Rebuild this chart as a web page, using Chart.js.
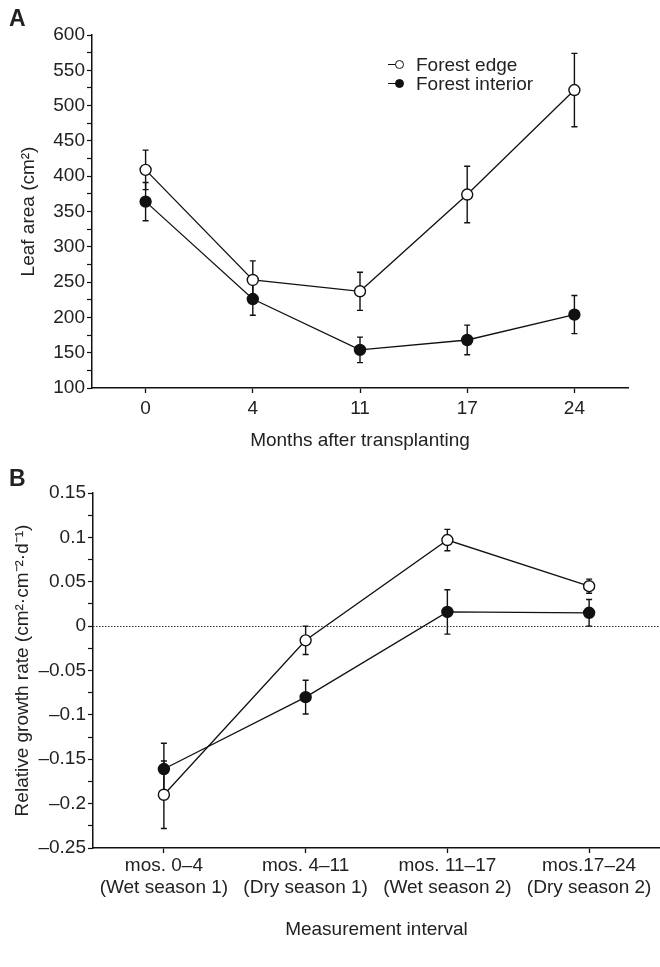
<!DOCTYPE html>
<html>
<head>
<meta charset="utf-8">
<script src="https://cdn.jsdelivr.net/npm/chart.js@4.4.1/dist/chart.umd.min.js"></script>
<style>
  html, body { margin: 0; padding: 0; background: #fff; }
  body { width: 660px; height: 967px; position: relative; overflow: hidden; font-family: 'Liberation Sans', Arial, sans-serif; color: #222; }
  .panel { position: absolute; left: 0; width: 660px; }
  #panelA { top: 0; height: 460px; }
  #panelB { top: 460px; height: 507px; }
  .tag { position: absolute; left: 9px; font-weight: bold; font-size: 23px; line-height: 1; }
  .legend { position: absolute; left: 388px; top: 55px; font-size: 19px; line-height: 19px; }
  .legend .row { position: relative; height: 19px; padding-left: 28px; white-space: nowrap; }
  .legend .ln { position: absolute; left: 0; top: 9px; width: 14px; height: 1.3px; background: #111; }
  .legend .dot { position: absolute; left: 7px; top: 5px; width: 7px; height: 7px; border: 1.3px solid #111; border-radius: 50%; background: #fff; }
  .legend .dot.fill { background: #111; }
</style>
</head>
<body>
<div class="panel" id="panelA"><canvas id="chartA" width="660" height="460"></canvas></div>
<div class="panel" id="panelB"><canvas id="chartB" width="660" height="507"></canvas></div>
<div class="tag" style="top:7px">A</div>
<div class="tag" style="top:467px">B</div>
<div class="legend">
  <div class="row"><span class="ln"></span><span class="dot"></span>Forest edge</div>
  <div class="row"><span class="ln"></span><span class="dot fill"></span>Forest interior</div>
</div>
<script>
const FONT = "'Liberation Sans', Arial, sans-serif";
const INK = '#222';

// panel A: leaf area
const monthLabels = ['0', '4', '11', '17', '24'];
const edgeArea = [409, 253, 237, 374, 522];
const edgeAreaErr = [28, 27, 27, 40, 52];
const interiorArea = [364, 226, 154, 168, 204];
const interiorAreaErr = [27, 23, 18, 21, 27];

// panel B: relative growth rate
const intervalLabels = [
  ['mos. 0–4', '(Wet season 1)'],
  ['mos. 4–11', '(Dry season 1)'],
  ['mos. 11–17', '(Wet season 2)'],
  ['mos.17–24', '(Dry season 2)'],
];
const edgeRate = [-0.190, -0.016, 0.097, 0.045];
const edgeRateErr = [0.038, 0.016, 0.012, 0.008];
const interiorRate = [-0.161, -0.080, 0.016, 0.015];
const interiorRateErr = [0.029, 0.019, 0.025, 0.015];

Chart.defaults.font.family = FONT;
Chart.defaults.color = INK;

const errorBars = {
  id: 'errorBars',
  beforeDatasetsDraw(chart) {
    const { ctx, scales: { y } } = chart;
    ctx.save();
    ctx.strokeStyle = '#111';
    ctx.lineWidth = 1.4;
    chart.data.datasets.forEach((ds, i) => {
      const meta = chart.getDatasetMeta(i);
      (ds.errors || []).forEach((e, j) => {
        const px = meta.data[j].x;
        const top = y.getPixelForValue(ds.data[j] + e);
        const bot = y.getPixelForValue(ds.data[j] - e);
        ctx.beginPath();
        ctx.moveTo(px, top); ctx.lineTo(px, bot);
        ctx.moveTo(px - 3, top); ctx.lineTo(px + 3, top);
        ctx.moveTo(px - 3, bot); ctx.lineTo(px + 3, bot);
        ctx.stroke();
      });
    });
    ctx.restore();
  }
};

const zeroLine = {
  id: 'zeroLine',
  beforeDatasetsDraw(chart) {
    const { ctx, chartArea, scales: { y } } = chart;
    const py = Math.round(y.getPixelForValue(0)) + 0.5;
    ctx.save();
    ctx.strokeStyle = '#333';
    ctx.lineWidth = 1;
    ctx.setLineDash([1.5, 1.5]);
    ctx.beginPath();
    ctx.moveTo(chartArea.left, py);
    ctx.lineTo(chartArea.right, py);
    ctx.stroke();
    ctx.restore();
  }
};

function series(data, errors, filled) {
  return {
    data,
    errors,
    borderColor: '#111',
    borderWidth: 1.3,
    pointRadius: 5.5,
    pointHoverRadius: 5.5,
    pointBorderWidth: 1.4,
    pointBorderColor: '#111',
    pointBackgroundColor: filled ? '#111' : '#fff',
    tension: 0,
    clip: false,
  };
}

function axisOpts(cfg) {
  return {
    x: {
      type: 'category',
      offset: true,
      grid: { display: true, drawOnChartArea: false, tickLength: 5, tickColor: '#111', tickWidth: 1.3, offset: false },
      border: { color: '#111', width: 1.5 },
      ticks: { font: { size: 19 }, color: INK, padding: cfg.xPad, maxRotation: 0, autoSkip: false },
      title: { display: true, text: cfg.xTitle, font: { size: 19 }, color: INK, padding: { top: 0, bottom: cfg.xTitlePad } },
      afterFit: s => { s.height = cfg.xHeight; s.paddingLeft = 0; s.paddingRight = 0; },
    },
    y: {
      min: cfg.min, max: cfg.max,
      grid: { display: true, drawOnChartArea: false, tickLength: 5, tickColor: '#111', tickWidth: 1.2 },
      border: { color: '#111', width: 1.5 },
      ticks: { stepSize: cfg.step, autoSkip: false, font: { size: 19 }, color: INK, padding: 2, callback: cfg.fmt },
      title: { display: true, text: cfg.yTitle, font: { size: 19 }, color: INK, padding: { top: cfg.yTitlePad, bottom: 0 } },
      afterFit: s => { s.width = cfg.yWidth; },
    },
  };
}

new Chart(document.getElementById('chartA'), {
  type: 'line',
  data: {
    labels: monthLabels,
    datasets: [
      series(edgeArea, edgeAreaErr, false),
      series(interiorArea, interiorAreaErr, true),
    ],
  },
  options: {
    responsive: false,
    animation: false,
    layout: { autoPadding: false, padding: { top: 35, right: 32, bottom: 0, left: 0 } },
    plugins: { legend: { display: false }, tooltip: { enabled: false } },
    scales: axisOpts({
      min: 100, max: 600, step: 25,
      fmt: v => (v % 50 === 0 ? String(v) : ''),
      xTitle: 'Months after transplanting', xTitlePad: 8, xHeight: 72, xPad: 4,
      yTitle: 'Leaf area (cm²)', yTitlePad: 17, yWidth: 92,
    }),
  },
  plugins: [errorBars],
});

new Chart(document.getElementById('chartB'), {
  type: 'line',
  data: {
    labels: intervalLabels,
    datasets: [
      series(edgeRate, edgeRateErr, false),
      series(interiorRate, interiorRateErr, true),
    ],
  },
  options: {
    responsive: false,
    animation: false,
    layout: { autoPadding: false, padding: { top: 33, right: 0, bottom: 0, left: 0 } },
    plugins: { legend: { display: false }, tooltip: { enabled: false } },
    scales: axisOpts({
      min: -0.25, max: 0.15, step: 0.025,
      fmt: v => {
        const k = Math.round(v * 1000);
        if (k % 50 !== 0) return '';
        if (k === 0) return '0';
        const s = String(Math.abs(k) / 1000);
        return k < 0 ? '–' + s : s;
      },
      xTitle: 'Measurement interval', xTitlePad: 26, xHeight: 119, xPad: 1,
      yTitle: 'Relative growth rate (cm²·cm⁻²·d⁻¹)', yTitlePad: 11, yWidth: 93,
    }),
  },
  plugins: [zeroLine, errorBars],
});
</script>
</body>
</html>
